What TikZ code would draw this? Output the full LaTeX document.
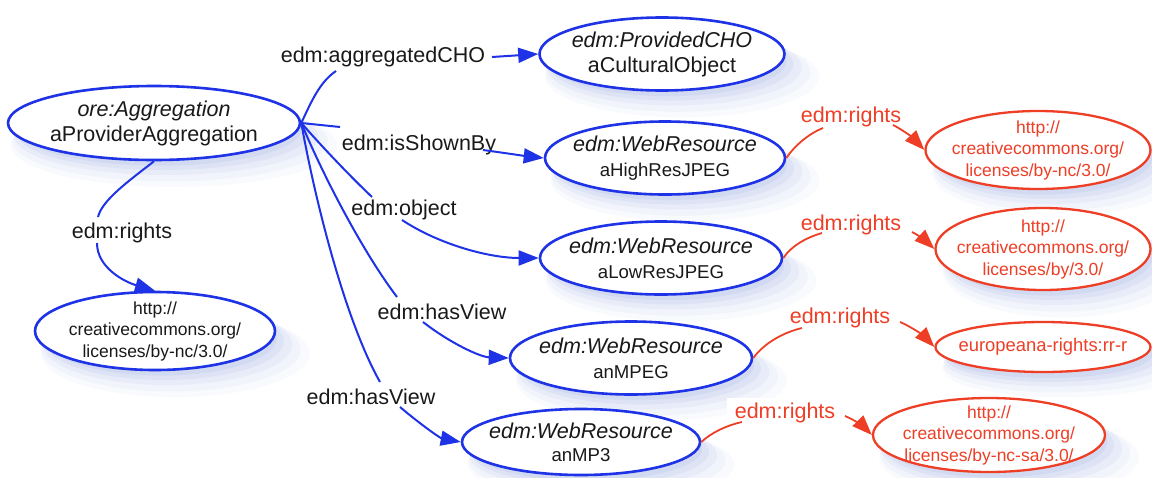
\documentclass[tikz,border=0pt]{standalone}
\usepackage{fontspec}
\setmainfont{Liberation Sans}
\usetikzlibrary{shapes.geometric,arrows.meta,shadows}
\definecolor{eblue}{RGB}{30,50,230}
\definecolor{ered}{RGB}{238,62,38}
\definecolor{eshadow}{RGB}{140,160,220}
\definecolor{etext}{RGB}{25,25,25}
\tikzset{
  softshadow/.style={
    general shadow={fill=eshadow, opacity=0.05, shadow xshift=18pt, shadow yshift=-20pt, shadow scale=1.12},
    general shadow={fill=eshadow, opacity=0.07, shadow xshift=15pt, shadow yshift=-17pt, shadow scale=1.08},
    general shadow={fill=eshadow, opacity=0.09, shadow xshift=12pt, shadow yshift=-13pt, shadow scale=1.04},
    general shadow={fill=eshadow, opacity=0.12, shadow xshift=9pt, shadow yshift=-10pt, shadow scale=1.0},
    general shadow={fill=eshadow, opacity=0.14, shadow xshift=6pt, shadow yshift=-7pt, shadow scale=0.97}},
  bnode/.style={ellipse, draw=eblue, line width=2.6pt, fill=white, softshadow,
    inner xsep=-20pt, inner ysep=-10pt, align=center, text=etext,
    font=\fontsize{21.5}{25}\selectfont},
  unode/.style={bnode, font=\fontsize{17.5}{21.5}\selectfont},
  rnode/.style={unode, draw=ered, line width=2.3pt, text=ered},
  elab/.style={inner sep=1pt, text=etext, font=\fontsize{21.5}{25}\selectfont},
  rlab/.style={elab, text=ered},
  bedge/.style={draw=eblue, line width=2pt},
  redge/.style={draw=ered, line width=1.8pt},
  arrowhd/.style={-{Triangle[length=20pt,width=15pt]}}
}
\newcommand{\sm}[1]{{\fontsize{18.6}{25}\selectfont #1}}
\begin{document}
\begin{tikzpicture}[x=1pt,y=-1pt]
\path[use as bounding box] (0,0) rectangle (1152,477);

% nodes
\node[bnode, minimum width=292pt, minimum height=74pt] (agg) at (154,123)
  {\textit{ore:Aggregation}\\aProviderAggregation};
\node[bnode, minimum width=245pt, minimum height=73pt] (cho) at (662,54)
  {\textit{edm:ProvidedCHO}\\aCulturalObject};
\node[bnode, minimum width=240pt, minimum height=73pt] (hi) at (665,158)
  {\textit{edm:WebResource}\\\sm{aHighResJPEG}};
\node[bnode, minimum width=242pt, minimum height=73pt] (lo) at (661,258)
  {\textit{edm:WebResource}\\\sm{aLowResJPEG}};
\node[bnode, minimum width=242pt, minimum height=73pt] (mpeg) at (631,358)
  {\textit{edm:WebResource}\\\sm{anMPEG}};
\node[bnode, minimum width=238pt, minimum height=66pt, font=\fontsize{21.5}{23}\selectfont] (mp3) at (581,442)
  {\textit{edm:WebResource}\\\sm{anMP3}};
\node[unode, minimum width=240pt, minimum height=78pt] (lr) at (155,331)
  {http://\\creativecommons.org/\\licenses/by-nc/3.0/};
\node[rnode, minimum width=225pt, minimum height=78pt] (r1) at (1038,150)
  {http://\\creativecommons.org/\\licenses/by-nc/3.0/};
\node[rnode, minimum width=215pt, minimum height=82pt] (r2) at (1043,249)
  {http://\\creativecommons.org/\\licenses/by/3.0/};
\node[rnode, minimum width=215pt, minimum height=50pt, font=\fontsize{18.4}{22}\selectfont] (r3) at (1043,347)
  {europeana-rights:rr-r};
\node[rnode, minimum width=232pt, minimum height=74pt] (r4) at (989,435)
  {http://\\creativecommons.org/\\licenses/by-nc-sa/3.0/};

% edge labels
\node[elab] (lcho) at (383,57) {edm:aggregatedCHO};
\node[elab] (lshown) at (419,145) {edm:isShownBy};
\node[elab] (lobj) at (404,210) {edm:object};
\node[elab] (lhv1) at (442,312) {edm:hasView};
\node[elab] (lhv2) at (371,397) {edm:hasView};
\node[elab] (lrl) at (122,233) {edm:rights};
\node[rlab] (lr1) at (851,117) {edm:rights};
\node[rlab] (lr2) at (851,225) {edm:rights};
\node[rlab] (lr3) at (840,318) {edm:rights};
\node[rlab, fill=white, inner xsep=8pt, inner ysep=5pt] (lr4) at (785,413) {edm:rights};

% connector break points around labels
\coordinate (c1a) at (336,71);  \coordinate (c1b) at (492,57);
\coordinate (c2a) at (340,127); \coordinate (c2b) at (483,150);
\coordinate (c3a) at (372,197); \coordinate (c3b) at (402,220);
\coordinate (c4a) at (397,297); \coordinate (c4b) at (423,322);
\coordinate (c5a) at (380,382); \coordinate (c5b) at (400,407);
\coordinate (c6a) at (98,217);  \coordinate (c6b) at (97,243);
\coordinate (c7a) at (823,128); \coordinate (c7b) at (893,125);
\coordinate (c8a) at (822,233); \coordinate (c8b) at (912,232);
\coordinate (c9a) at (802,328); \coordinate (c9b) at (900,322);
\coordinate (c10a) at (742,422); \coordinate (c10b) at (845,416);

% blue connectors
\draw[bedge] (agg.east) .. controls (312,100) and (320,82) .. (c1a);
\draw[bedge, arrowhd] (c1b) -- (cho.west);
\draw[bedge] (agg.east) -- (c2a);
\draw[bedge, arrowhd] (c2b) .. controls (505,153) and (525,156) .. (hi.west);
\draw[bedge] (agg.east) .. controls (325,150) and (352,178) .. (c3a);
\draw[bedge, arrowhd] (c3b) .. controls (440,245) and (490,258) .. (lo.west);
\draw[bedge] (agg.east) .. controls (325,180) and (365,255) .. (c4a);
\draw[bedge, arrowhd] (c4b) .. controls (450,343) and (480,357) .. (mpeg.west);
\draw[bedge] (agg.east) .. controls (315,200) and (345,320) .. (c5a);
\draw[bedge, arrowhd] (c5b) .. controls (420,424) and (440,438) .. (mp3.west);
\draw[bedge] (agg.south) .. controls (130,180) and (102,200) .. (c6a);
\draw[bedge, arrowhd] (c6b) .. controls (97,268) and (125,282) .. (lr.north);

% red connectors
\draw[redge] (hi.east) .. controls (795,145) and (810,133) .. (c7a);
\draw[redge, arrowhd] (c7b) .. controls (903,130) and (913,138) .. (r1.west);
\draw[redge] (lo.east) .. controls (792,245) and (808,237) .. (c8a);
\draw[redge, arrowhd] (c8b) .. controls (920,236) and (927,242) .. (r2.west);
\draw[redge] (mpeg.east) .. controls (765,342) and (785,332) .. (c9a);
\draw[redge, arrowhd] (c9b) .. controls (912,327) and (925,337) .. (r3.west);
\draw[redge] (mp3.east) .. controls (712,432) and (728,425) .. (c10a);
\draw[redge, arrowhd] (c10b) .. controls (855,420) and (865,428) .. (r4.west);
\end{tikzpicture}
\end{document}
